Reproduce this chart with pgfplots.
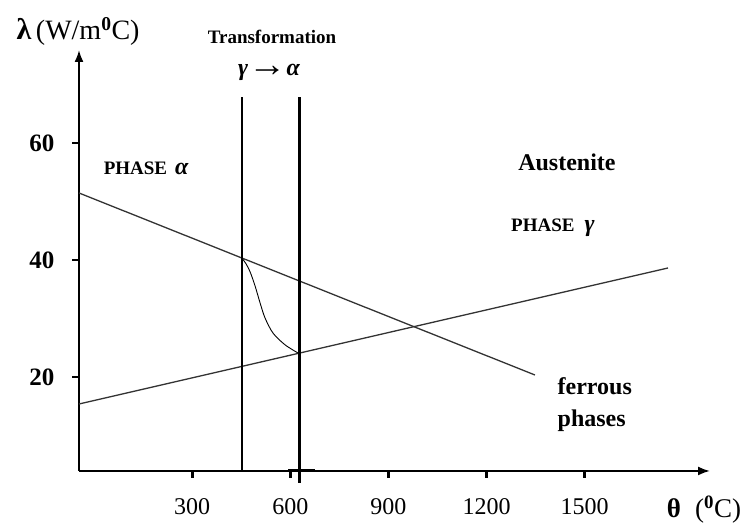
\documentclass[border=0pt]{standalone}
\usepackage{amsmath}
\usepackage{graphicx}
\usepackage{fontspec}
\setmainfont{Liberation Serif}
\usepackage{pgfplots}
\pgfplotsset{compat=1.18}
\usetikzlibrary{arrows.meta}
\begin{document}
\begin{tikzpicture}
\begin{axis}[
  scale only axis, width=631pt, height=421pt,
  xmin=-46.2, xmax=1883.5, ymin=3.93, ymax=75.9,
  axis line style={draw=none},
  xtick={300,600,900,1200,1500}, ytick={20,40,60},
  xtick pos=bottom, ytick pos=left,
  tick align=outside,
  major tick length=7pt,
  major tick style={draw=black, line width=2.6pt},
  /pgf/number format/assume math mode=true,
  /pgf/number format/set thousands separator={},
  xticklabel style={font=\fontsize{24}{28}\selectfont, yshift=-17pt},
  yticklabel style={font=\fontsize{25}{30}\selectfont\bfseries, xshift=-14pt},
  clip=false,
]
% axes with arrows
\draw[line width=2pt, -{Latex[length=12pt,width=9pt]}] (rel axis cs:0,0) -- (rel axis cs:1,0);
\draw[line width=2pt, -{Latex[length=12pt,width=9pt]}] (rel axis cs:0,0) -- (rel axis cs:0,1);
% alpha phase line (decreasing)
\addplot[black!80, line width=1.3pt] coordinates {(-46.2,51.45) (1348,20.34)};
% gamma phase line (increasing)
\addplot[black!80, line width=1.3pt] coordinates {(-46.2,15.38) (1755,38.63)};
% transformation limits
\addplot[black, line width=2.6pt] coordinates {(452.3,3.93) (452.3,67.9)};
\addplot[black, line width=2.6pt] coordinates {(628,1.88) (628,67.9)};
\addplot[black, line width=2pt] coordinates {(593,4.1) (676,4.1)};
% transformation curve
\addplot[black, line width=0.9pt, smooth] coordinates {
  (452.3,40.3) (465.0,39.3) (476.8,38.0) (492.0,35.6) (507.3,32.7) (522.6,30.1)
  (547.1,27.5) (583.8,25.5) (623.5,24.10)};
% texts
\node[anchor=west, font=\fontsize{28}{30}\selectfont] at (axis cs:-248,79.1)
  {{\fontsize{30}{30}\selectfont\bfseries λ}\,(W/m\textsuperscript{\textbf{0}}C)};
\node[font=\fontsize{19}{22}\selectfont\bfseries] at (axis cs:544,78.1) {Transformation};
\node[font=\fontsize{24}{28}\selectfont] at (axis cs:535,72.0)
  {{\bfseries\itshape γ}\raisebox{-1pt}{\scalebox{1.6}[1.5]{\bfseries →}}{\bfseries\itshape α}};
\node[font=\fontsize{19}{22}\selectfont\bfseries] at (axis cs:159,55.7)
  {PHASE\hspace{8pt}{\fontsize{24}{28}\selectfont\itshape α}};
\node[font=\fontsize{24}{28}\selectfont\bfseries] at (axis cs:1446,56.75) {Austenite};
\node[font=\fontsize{19}{22}\selectfont\bfseries] at (axis cs:1403,45.47)
  {PHASE\hspace{10pt}{\fontsize{24}{28}\selectfont\itshape γ}};
\node[font=\fontsize{24}{32}\selectfont\bfseries, align=left] at (axis cs:1531,15.2) {ferrous\\phases};
\node[font=\fontsize{27}{30}\selectfont] at (axis cs:1865,-2.74)
  {\textbf{θ}\hspace{14pt}(\textsuperscript{\textbf{0}}C)};
\coordinate (TL) at (axis cs:-287.8,84.44);
\coordinate (BR) at (axis cs:2021,-6.5);
\end{axis}
\pgfresetboundingbox
\useasboundingbox (TL) rectangle (BR);
\end{tikzpicture}
\end{document}
